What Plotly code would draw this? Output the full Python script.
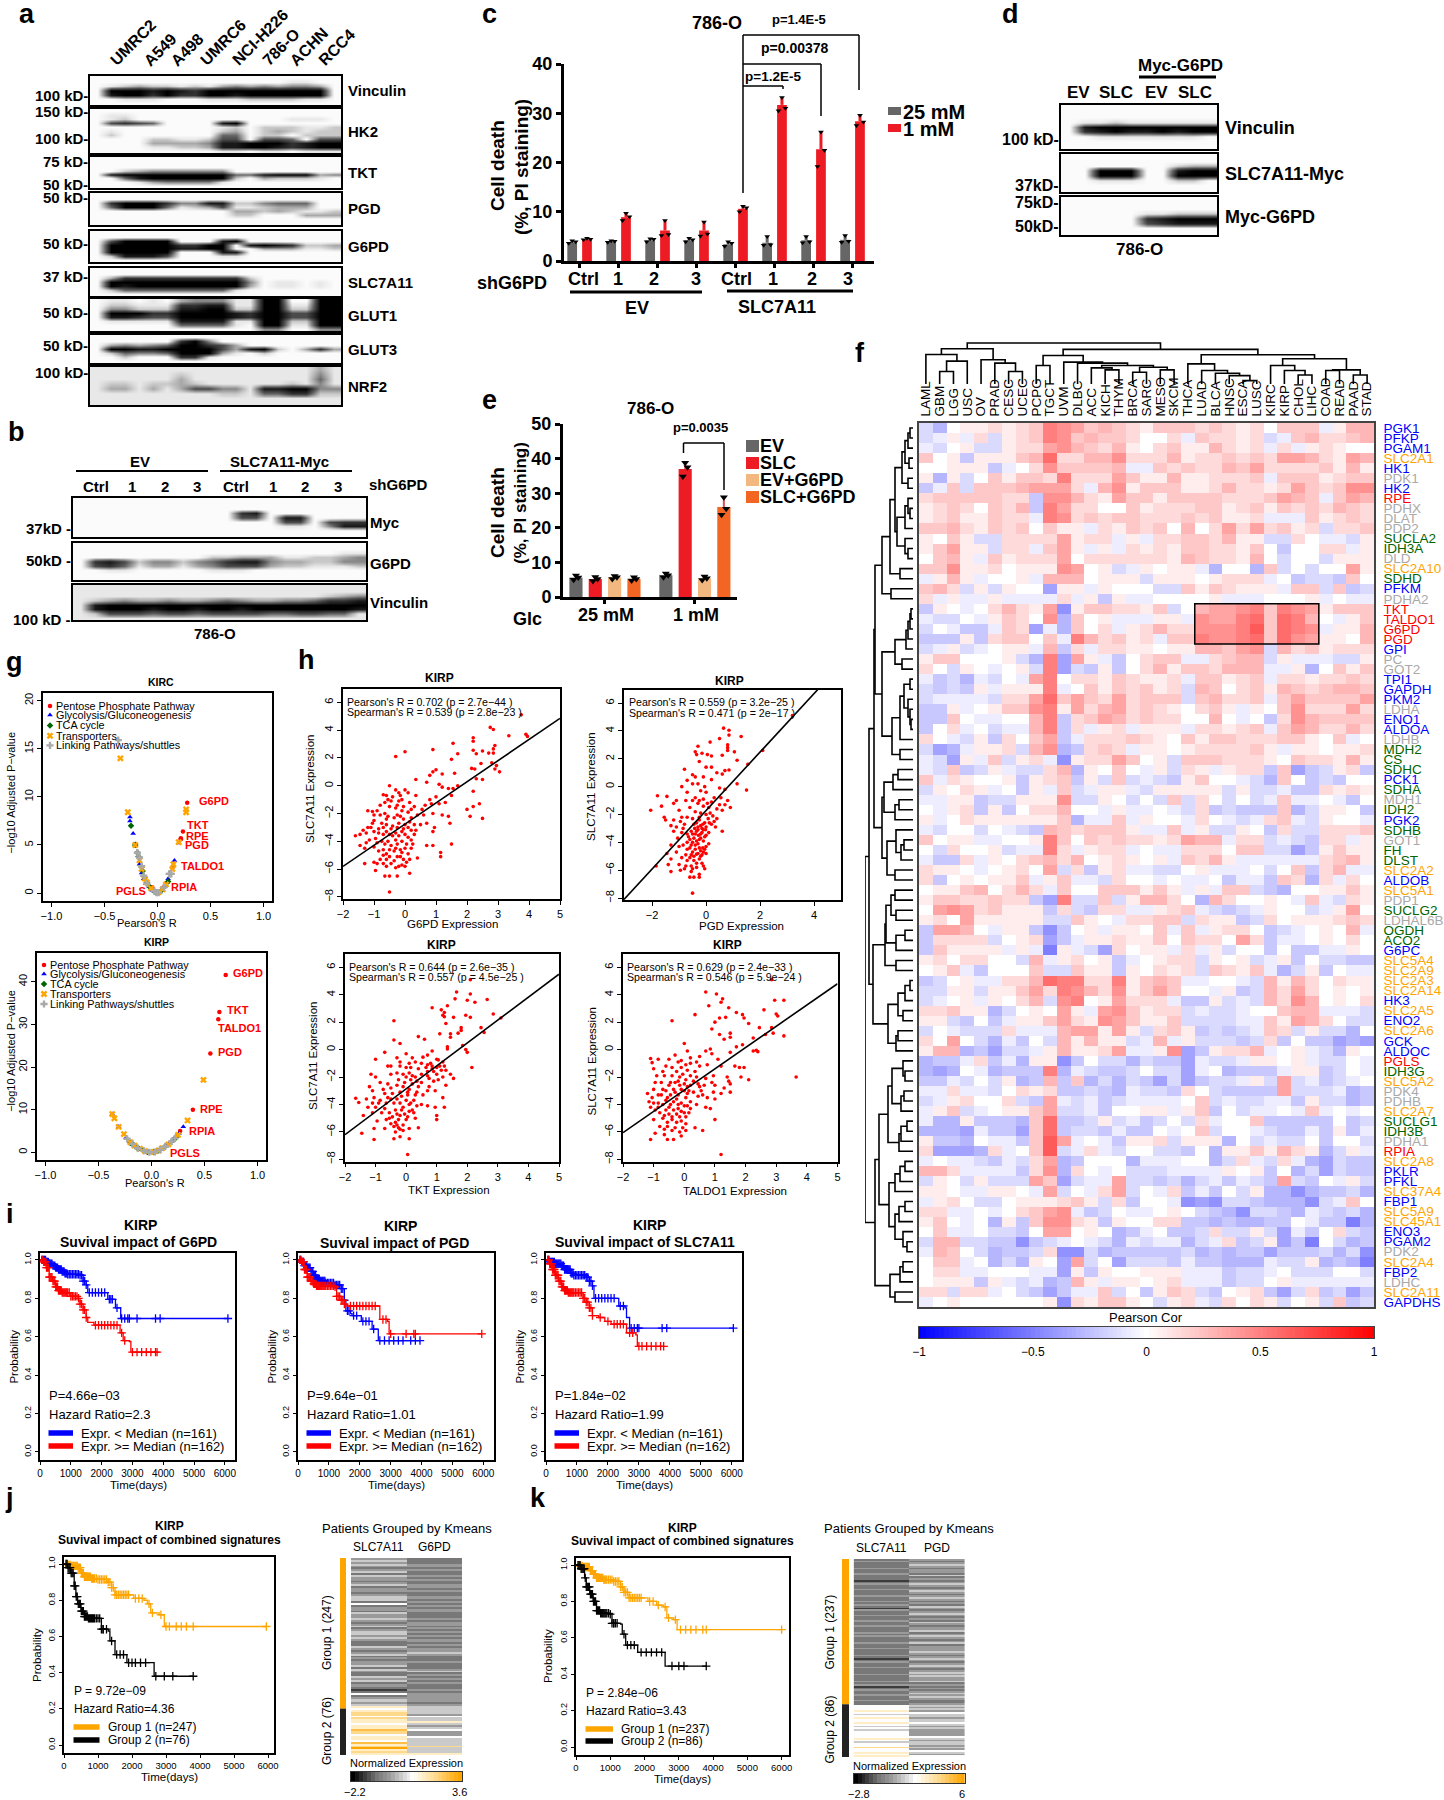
import plotly.graph_objects as go

W, H = 1444, 1800
FONT = "Liberation Sans"

# ---------- panel c / e data ----------
c_groups = ["Ctrl", "1", "2", "3", "Ctrl", "1", "2", "3"]
c_gray = [3.8, 3.9, 4.2, 4.2, 3.4, 3.7, 4.2, 4.3]
c_red = [4.4, 8.9, 6.2, 6.2, 10.6, 31.7, 22.7, 28.4]
c_gray_pts = [[3.6, 3.9, 4.1], [3.8, 4.0, 4.1], [3.9, 4.4, 4.5], [3.9, 4.3, 4.6], [3.0, 3.6, 3.9], [3.2, 3.3, 5.0], [3.7, 3.9, 5.0], [3.8, 4.0, 5.2]]
c_red_pts = [[4.3, 4.4, 4.6], [8.2, 9.0, 9.7], [5.2, 5.4, 8.2], [5.1, 5.5, 7.9], [10.0, 10.8, 11.1], [30.5, 31.0, 33.2], [19.2, 22.5, 26.2], [27.5, 28.2, 29.6]]
e_names = ["EV", "SLC", "EV+G6PD", "SLC+G6PD"]
e_colors = ["#666666", "#ED1C24", "#F2B880", "#F26522"]
e_25 = [5.6, 5.2, 5.7, 5.2]
e_1 = [6.3, 37.0, 5.4, 26.0]
e_25_pts = [[5.0, 5.6, 6.2], [4.6, 5.2, 5.8], [5.2, 5.7, 6.1], [4.8, 5.2, 5.7]]
e_1_pts = [[5.7, 6.3, 6.8], [34.8, 37.5, 38.8], [4.9, 5.4, 5.9], [23.8, 25.5, 28.8]]

# ---------- western blots, band darkness 0-9 ----------
blot_a_vinculin = ["000000000000000000", "000000000000001100", "012322121343434430", "099989879999999990", "089979779989999990", "001110001112222110", "000000000000000000"]
blot_a_hk2 = ["000000000000000000", "011000000000000000", "012000000000001110", "067650000890000000", "000000000120222112", "010000000230232122", "020000000550220222", "000022112660665066", "000033334889997899", "000011223889987899", "000000000110110111"]
blot_a_tkt = ["000000000000000000", "000000000000000000", "000000000000000000", "002344444400000000", "089999999955899934", "005899999920322210", "000134444100000000", "000000000000000000"]
blot_a_pgd = ["000000000000000000", "000000000000000000", "079997448822455500", "059995123611233300", "000000000033232112", "000000000022000333", "000000000000000000", "000000000000000000"]
blot_a_g6pd = ["000000000000000000", "000000000000000000", "069999000890000000", "099999779908987223", "099999889900333112", "099999000880000000", "028886000110000000", "000000000000000000"]
blot_a_slc = ["000000000000000000", "000000000000000000", "037777777772000000", "099999999994011010", "098999999993011010", "025555555510000000", "000000000000000000"]
blot_a_glut1 = ["011010344411990099", "022111778811991199", "044222889922992299", "099977999987996699", "088766999987996699", "011111888811992299", "000000555510991199", "000000000000440044"]
blot_a_glut3 = ["000000000000000000", "000000794000000000", "034345997630000000", "099889999638920373", "025445999310200000", "002000771000000000", "000000000000000000"]
blot_a_nrf2 = ["111111111111111131", "111111211111111141", "111111311111111151", "122122321111112141", "133131366441889944", "111111111221557722", "111111111111111111", "111111111111111111"]
blot_b_myc = ["00000000000000000000", "00000000000000000000", "00000000000000000000", "00000000000780000000", "00000000000660880000", "00000000000000660677", "00000000000000110488", "00000000000000000000", "00000000000000000000"]
blot_b_g6pd = ["00000000000000000000", "00000000000000000000", "00000000000000000011", "00000000022333112234", "07862442457884332244", "06751331346663221112", "00110000011100000000", "00000000000000000000", "00000000000000000000"]
blot_b_vinculin = ["11111111111111111111", "11111111111111111111", "11111111111111111234", "12343343345433445778", "18999999999999999999", "18999899899899999998", "12666566566665566551", "11111111111111111111"]
blot_d_vinculin = ["0000000000", "0000000000", "0000000000", "0112111111", "0899999999", "0789889899", "0011111110", "0000000000", "0000000000"]
blot_d_slc = ["0000000000", "0000000000", "0000000233", "0099900899", "0099900999", "0011100220", "0000000000", "0000000000"]
blot_d_myc = ["0000000000", "0000000000", "0000000000", "0000011222", "0000078999", "0000067888", "0000000000", "0000000000"]

# ---------- panel f ----------
cancers = "LAML GBM LGG USC OV PRAD CESC UCEC PCPG TGCT UVM DLBC ACC KICH THYM BRCA SARC MESO SKCM THCA LUAD BLCA HNSC ESCA LUSC KIRC KIRP CHOL LIHC COAD READ PAAD STAD".split()
genes = ("PGK1 PFKP PGAM1 SLC2A1 HK1 PDK1 HK2 RPE PDHX DLAT PDP2 SUCLA2 IDH3A DLD SLC2A10 SDHD PFKM PDHA2 TKT TALDO1 G6PD PGD GPI PC GOT2 TPI1 GAPDH PKM2 LDHA ENO1 ALDOA LDHB MDH2 CS SDHC PCK1 SDHA MDH1 IDH2 PGK2 SDHB GOT1 FH DLST SLC2A2 ALDOB SLC5A1 PDP1 SUCLG2 LDHAL6B OGDH ACO2 G6PC SLC5A4 SLC2A9 SLC2A3 SLC2A14 HK3 SLC2A5 ENO2 SLC2A6 GCK ALDOC PGLS IDH3G SLC5A2 PDK4 PDHB SLC2A7 SUCLG1 IDH3B PDHA1 RPIA SLC2A8 PKLR PFKL SLC37A4 FBP1 SLC5A9 SLC45A1 ENO3 PGAM2 PDK2 SLC2A4 FBP2 LDHC SLC2A11 GAPDHS").split()
gene_path = "bbbobkbrkk" "kggkogbkrr" "rrbkkbbbkb" "bkgggbgkgb" "gkggobokgk" "ggboooobob" "obbrgokkog" "gkrobboboo" "bbkobkob"
heat_rows = [
"bd011 21237 65343 21333 23212 0333a 144", "ba1a2 b1237 63433 2002a 32212 ba342 234", "ab01b b1225 64324 10231 14212 a2a12 100", "301c1 11348 22446 22241 22323 25542 154",
"00111 ca026 33334 aa323 22435 22223 141", "1d1b0 31332 72225 31141 12223 a3331 233", "ca3b3 33455 52a46 13331 12422 12532 366", "23333 322c6 64215 33133 33222 3543a 354",
"12320 324c7 52200 31222 33123 13232 432", "12311 322a7 62323 32223 23112 aaa31 232", "33421 32303 11a21 32304 02525 2312b 223", "1031b b2222 5122a 1a223 32411 bb20a ab1",
"13511 b22a3 51a1a 21213 32213 0c002 2a1", "0341a 31222 50222 22214 32214 0b00b 111", "33611 20111 6501b a1011 ad00d 3b0b0 051", "a141a 001a4 44011 1b111 01222 a0cbb c30",
"342b1 b100e 11a10 00bb3 13211 1a33b 3cb", "2a1aa 1aaaa 2a1c1 aa000 01aaa 0001a 0aa", "c10a0 24215 f1332 213b0 45567 37651 333", "abb0a 13206 d301a aa11a 65578 38740 a13",
"b0acc a32ea d302a 12422 66679 3876a 114", "ccc1c 23303 a7423 12a33 76678 38651 104", "ba1ba 011a4 c2a22 11011 44356 b4231 222", "13300 01bd7 e51ac 0233a a2344 b1aaa bb1",
"20b10 a01b7 ebc1c 02413 32444 aa1d0 313", "acbda b0a57 02213 2112a 33123 a2212 232", "bcbc1 a1117 a0313 2312b 43023 14323 443", "baaaa b2258 35325 2333b 34223 a3533 335",
"cc1a0 13367 15245 23210 231a1 03622 252", "cc30a a0047 c2354 23220 040a0 c2643 333", "c02a0 baa47 c2a12 a111a 22123 a3542 242", "20ab1 c2035 ca222 32103 13322 23310 3a0",
"beda1 12b46 dc232 a1101 22223 1a110 112", "abe1a 3b12a f1225 301b3 33222 10322 141", "ab3cb 1abb2 4d103 0a1b2 1a122 c3ecb 12c", "3a210 01c12 3c1b3 babc1 300ab d30cb c00",
"b1021 a0c1a 3ba11 ab111 11b1b bacc2 121", "aa11c bb111 6bb10 b0b3b 20b0b a3aa0 ac0", "0a12c 1c022 400a1 aa0ab 2cbcc c3db1 10c", "1a021 11111 3daa3 a100a 20aba 23ab1 00a",
"ab00b 0abc4 32333 1aa3a 1bb10 c2bb2 223", "3011a a0017 30323 22125 44a22 babc2 2a1", "0b200 1baa7 2a122 a0aa2 22033 bbec1 311", "acc2a 10234 24012 101a3 241aa aaaa2 341",
"2110a 01205 b2c12 aabb0 1aaa0 b03c2 4aa", "2c010 113a1 3aab2 00a0a a0caa c32d2 a20", "01134 0242a 30033 3131a 1a33b cd001 131", "13322 322ce 7bb3b 14420 d4200 10a3a b21",
"05652 3111c 2bc22 aa123 abcba 100ba 150", "12051 1111b b310a 2233b 211cb 20111 232", "c5540 a11cf c01a1 103a3 a1220 cba01 04a", "c2222 b012e ca112 11303 22052 caa01 020",
"c3111 1a1ag 1abe2 011a2 a1b00 c0cca a10", "12022 00b4a 1201c a0122 b101b a1c0b bcc", "013ac 0003b b311c 10212 b3213 adb1c 0aa", "cb01a a2248 77227 1343a a00ab 41420 211",
"bb11b 11352 76426 13530 0a1cb 42520 101", "ba01a 1024b 67015 222ac c1bab 42640 102", "22311 db010 51a56 3122b abba0 0344a aab", "11bc0 ca113 52165 3113b bbbaa 31542 0bb",
"b0abb b2aaa 45515 1b231 cbcba 32b1b bd0", "2050b dac0b 41411 ba4a1 bbbcb 2c0cc ede", "144dc ebba1 41125 aa16e c1224 a01ab d10", "dcca2 cad11 fc0bb dbcce abba1 101ab b0a",
"ded0a dccc7 dabcc b0bbe a0dcc ca11c b0a", "ccab0 b1dc4 c3dbd bcebe cbba1 b5bac ba0", "aa2aa b0212 ccbcd abbc2 0bccc c5bbb adc", "ba120 02bc5 abacb aaaa0 3babb aac1b bdc",
"a13ba 01135 bbac0 011a1 3c0ba a0a3a 0a0", "add1c ccd38 ccb1b acb0b 2a003 ccccc 0cb", "dddea cce38 cbbca cc0a0 3b00a bccac 1ca", "1ccd0 aac39 5a0ac 112b1 11d0b abb0c 00b",
"2eeed 2a039 ba2ab 00bbc 0d113 1421d b1a", "a0aab cab25 dc000 daaa0 0db2a b2ade bcc", "442aa aac26 d20a0 bbbaa aa101 c0dbe bcc", "b10b1 bbb53 ebaa5 bbcbd bacab c5bc0 a1b",
"110aa 110a5 b0a25 b0a2c ac0b1 ddfdc cbd", "a120b b0111 231b2 c00af efbbc dddfb a30", "22aa0 a0235 6acb0 aa010 bcdfb bcdab cbd", "130a0 d1c36 621c1 0022c cdcdd cc0ac cgd",
"03aa0 bbc05 5010d ca0cc b2bb1 beac0 2bc", "b44bb ccfcb a0abd abaad ba2cb 1ecg0 bdc", "a430b dccb2 ffbdc ccccb dcdcc ecccb dbf", "033a0 dbd10 e5b0e bbbca ccddd abb1d cdg",
"022aa 000aa e1c10 0111a aacbb a0bbb 00b", "0111c 1abad c41a1 1012a aacbb 01aaa aaa", "22b22 a0bce caa3b 0c132 bc012 ceb2c bec", "a0100 00001 f2133 10b12 ab202 1b01b 3cb"]
cor_unit = 0.072
col_tree = ((( 0, ((1, 2, 37), 3, 68), 88), (4, (5, (6, 7, 37), 62), 72), 105),
            ((((8, 9, 55), (10, (11, ((12, (13, 14, 42), 48), ((15, 16, 35), (17, 18, 42), 50), 55), 62), 65), 85),
              ((19, (20, (21, (22, (23, 24, 10), 25), 32), 40), 60),
               ((25, (26, (27, 28, 27), 40), 55), ((29, 30, 40), (31, 32, 27), 42), 75), 87), 103)), 122)
_a2 = ((((((0, 1, 3), 2, 5), (3, 4, 4), 8)), (5, 6, 5), 11))
_d = (((7, (8, 9, 3), 5), 10, 8), (11, (12, 13, 5), 8), 16)
_f = (((_a2, _d, 18), (14, 15, 13), 23), (16, 17, 22), 31)
_g = ((((((18, 19, 2), 20, 3), 21, 5), 22, 7)), (23, 24, 11), 18)
_h = ((((25, 26, 3), (27, (28, (29, 30, 2), 3), 5), 9), 31, 13), (32, 33, 13), 21)
_ij = ((((34, 35, 15), 36, 20), ((37, 38, 14), 39, 18), 29), ((40, ((41, 42, 9), 43, 12), 17), (44, 45, 18), 26), 31)
_q = ((((((46, 47, 18), (48, 49, 17), 22), ((50, 51, 8), 52, 17), 27)), (53, 54, 17), 28),
      ((((55, 56, 3), 57, 8), (58, 59, 10), 15), ((60, 61, 15), 62, 17), 25), 40)
_r = ((((((63, (64, 65, 8), 10), ((66, 67, 9), 68, 12), 21), (((69, 70, 6), 71, 12), 72, 14), 25),
        ((((73, 74, 8), 75, 13), 76, 18), (((77, 78, 8), 79, 14), (80, (81, 82, 6), 10), 18), 24), 34)),
      (((83, 84, 10), 85, 13), (86, 87, 18), 23), 38)
row_tree = ((((_f, (_g, _h, 31), 38), _ij, 39), _q, 44), _r, 48)

# ---------- panel g ----------
g1_ppp = [(0.28, 9.4), (0.24, 6.4), (0.22, 5.7), (0.22, 5.6), (0.15, 2.8), (0.06, 0.6), (-0.05, 0.6)]
g1_gly = [(-0.26, 7.9), (-0.26, 7.5), (-0.23, 6.2), (-0.21, 5.1), (-0.17, 3.0), (-0.15, 2.1), (-0.13, 1.5), (-0.11, 1.0), (-0.08, 0.7), (-0.05, 0.3), (-0.03, 0.15), (0.02, 0.1), (0.04, 0.3), (0.07, 0.7), (0.09, 1.1), (0.1, 1.5), (0.14, 2.7), (0.16, 3.4), (0.2, 5.2)]
g1_tca = [(-0.25, 7.0), (-0.21, 5.0), (-0.19, 4.2), (-0.18, 3.8), (-0.15, 2.7), (-0.14, 2.3), (-0.12, 1.6), (-0.1, 1.1), (-0.07, 0.6), (-0.02, 0.1), (0.01, 0.05), (0.03, 0.2), (0.1, 1.2)]
g1_tra = [(-0.35, 14.0), (-0.28, 8.4), (0.27, 8.7), (0.27, 8.4), (0.2, 5.3), (-0.21, 5.0), (-0.17, 3.4), (0.15, 3.0), (-0.15, 2.5), (-0.12, 1.5), (-0.1, 1.1), (-0.06, 0.5), (0.01, 0.1), (0.05, 0.4), (0.08, 0.9), (0.14, 2.5)]
g1_lnk = [(-0.37, 15.9), (-0.19, 4.2), (-0.17, 3.7), (-0.15, 2.8), (-0.13, 1.8), (-0.1, 1.0), (-0.03, 0.2), (-0.01, 0.05), (0.01, 0.05), (0.06, 0.6), (0.11, 2.0), (0.12, 2.0), (0.13, 2.0)]
g2_ppp = [(0.7, 41.6), (0.64, 32.9), (0.63, 31.2), (0.555, 23.2), (0.39, 10.0), (0.27, 5.0), (0.04, 0.3)]
g2_gly = [(-0.37, 9.0), (-0.31, 6.0), (-0.24, 3.5), (-0.18, 1.9), (-0.14, 1.1), (-0.1, 0.7), (-0.06, 0.3), (-0.03, 0.1), (0.01, 0.05), (0.05, 0.3), (0.09, 0.8), (0.14, 1.5), (0.17, 2.2), (0.2, 3.0), (0.24, 3.9), (0.26, 4.5), (0.3, 6.0)]
g2_tca = [(-0.2, 2.3), (-0.17, 1.8), (-0.14, 1.2), (-0.12, 0.9), (-0.08, 0.5), (-0.04, 0.1), (0.02, 0.1), (0.06, 0.4), (0.12, 1.2), (0.21, 3.0), (0.23, 3.5)]
g2_tra = [(0.49, 17.0), (0.34, 7.5), (-0.37, 9.0), (-0.35, 8.0), (-0.31, 6.0), (-0.26, 4.3), (-0.2, 2.4), (-0.16, 1.6), (-0.11, 0.9), (-0.06, 0.3), (0.02, 0.1), (0.07, 0.5), (0.1, 1.0), (0.16, 1.9), (0.25, 4.1)]
g2_lnk = [(-0.23, 3.2), (-0.18, 2.0), (-0.13, 1.0), (-0.07, 0.4), (-0.02, 0.05), (0.03, 0.1), (0.08, 0.6), (0.13, 1.4), (0.19, 2.6), (0.22, 3.3)]
g_legend = ["Pentose Phosphate Pathway", "Glycolysis/Gluconeogenesis", "TCA cycle", "Transporters", "Linking Pathways/shuttles"]

# ---------- panel h ----------
h_g6pd = [(3.75,5.1),(2.75,4.2),(2.85,4.05),(3.35,3.6),(3.9,3.7),(3.95,3.55),(2.2,3.45),(2.2,3.2),(1.55,3.05),(2.9,2.9),(2.85,2.65),(2.7,2.35),(2.85,2.35),(2.2,2.55),(2.3,2.3),(2.5,2.5),(1.7,2.3),(0.9,2.6),(0,2.45),(-0.3,2.1),(2.45,1.6),(1.5,1.9),(2.8,1.65),(2.95,1.45),(2.9,1.2),(3.05,1.0),(2.15,1.25),(2.25,1.2),(1.0,1.15),(1.2,0.85),(1.6,0.9),(0.8,0.75),(0.9,1.0),(2.5,0.45),(2.3,0.5),(0.35,0.45),(0.7,0.25),(1.1,0.1),(1.2,-0.1),(1.4,-0.2),(1.55,-0.2),(1.7,0),(2.2,-0.4),(-0.5,0),(-0.3,-0.3),(-0.7,-0.65),(-0.6,-0.7),(0,-0.3),(0.1,-0.5),(0.35,-0.7),(-0.2,-0.5),(-0.4,-0.8),(-0.55,-1.0),(-0.1,-1.0),(-0.2,-1.1),(0.8,-1.0),(1.0,-0.8),(1.1,-1.3),(1.3,-1.2),(1.5,-0.7),(2.0,-1.7),(2.2,-1.5),(2.4,-1.3),(2.1,-2.2),(2.5,-2.35),(1.45,-2.7),(1.4,-2.2),(1.2,-2.1),(0.9,-2.0),(0.6,-2.1),(0.4,-2.1),(-0.9,-1.8),(-1.2,-1.8),(-1.05,-1.85),(-0.8,-1.4),(-0.5,-1.5),(-0.3,-1.6),(-0.1,-1.8),(0.1,-1.9),(0.2,-2.3),(-0.15,-2.2),(-0.35,-2.3),(-0.6,-2.4),(-1.0,-2.5),(-1.05,-2.7),(-1.1,-3.0),(-1.35,-3.2),(-1.6,-3.6),(-1.45,-3.5),(-1.25,-3.4),(-1.0,-3.3),(-0.85,-3.1),(-0.6,-2.8),(-0.4,-2.9),(-0.2,-2.7),(0,-2.8),(0.1,-3.0),(0.3,-2.8),(0.5,-2.8),(0.7,-2.7),(0.95,-3.0),(0.9,-3.3),(-0.1,-3.3),(-0.3,-3.4),(-0.5,-3.5),(-0.7,-3.5),(-0.95,-3.8),(-1.15,-3.9),(-1.25,-4.1),(-1.45,-4.3),(-1.3,-4.5),(-0.75,-4.0),(-0.55,-4.0),(-0.3,-3.9),(-0.1,-4.0),(0.1,-3.7),(0.3,-3.5),(0.7,-4.3),(0.9,-4.3),(1.5,-4.2),(-0.7,-4.6),(-0.5,-4.6),(-0.35,-4.7),(-0.1,-4.8),(0,-4.5),(0.2,-4.5),(0.4,-5.2),(1.15,-4.8),(1.15,-5.1),(-0.7,-5.0),(-0.5,-5.1),(-0.25,-5.1),(-0.05,-5.3),(-1.3,-5.6),(-1.0,-5.5),(-0.9,-5.6),(-0.6,-5.8),(-0.45,-5.6),(-0.2,-5.8),(0,-5.8),(0.15,-6.3),(-0.95,-6.1),(-0.65,-6.5),(-0.5,-6.5),(-0.25,-6.5),(-0.5,-7.65),
(-0.65,-2.0),(-0.45,-1.1),(-0.25,-1.4),(-0.05,-1.5),(0.15,-1.2),(0.3,-1.5),(-0.75,-2.7),(-0.55,-2.2),(-0.25,-2.1),(-0.05,-2.4),(0.15,-2.6),(-0.85,-3.4),(-0.7,-3.0),(-0.45,-3.1),(-0.25,-3.0),(-0.05,-3.1),(0.2,-3.2),(0.35,-3.2),(-0.6,-3.3),(-0.4,-3.6),(-0.2,-3.6),(0,-3.5),(0.2,-3.9),(-0.9,-4.1),(-0.65,-4.2),(-0.45,-4.3),(-0.25,-4.2),(0.05,-4.2),(0.25,-4.2),(-1.0,-4.4),(-0.85,-4.7),(-0.6,-4.9),(-0.3,-4.5),(-0.15,-4.6),(0.1,-4.9),(-0.8,-5.3),(-0.6,-5.3),(-0.35,-5.4),(-0.15,-5.1),(0.15,-5.3),(-0.7,-5.6),(-0.3,-5.9),(-0.1,-5.7),(0.05,-5.5),(-1.2,-3.0),(-1.0,-2.1),(-0.8,-2.1),(-0.65,-1.2),(-0.15,-0.7),(0.2,-1.7),(0.65,-1.4),(0.55,-1.7),(0.85,-1.3)]
h_pgd = [(3.2,5.1),(0.65,4.2),(0.85,4.05),(1.3,3.6),(0.85,3.7),(0.8,3.0),(0.15,3.2),(0.5,3.45),(-0.3,2.9),(-0.4,2.5),(-0.35,2.3),(-0.15,2.4),(0.05,2.3),(2.1,2.6),(1.55,1.6),(1.15,1.9),(0.6,2.25),(0.2,2.2),(0.8,2.8),(0.8,2.6),(1.05,2.5),(-0.25,1.8),(0,1.4),(0.2,1.4),(0.7,1.15),(0.85,1.2),(0.4,1.0),(0.6,0.9),(-0.8,1.25),(-0.5,0.85),(-0.4,0.7),(-0.1,0.7),(0.2,0.5),(-0.7,0.45),(-0.3,0.2),(1.15,0.2),(1.5,-0.25),(0.7,-0.2),(0.5,-0.1),(-0.05,0),(-0.5,0.2),(-0.9,0),(-0.2,-0.3),(0,-0.4),(-0.7,-0.4),(-1.8,-0.65),(-1.45,-0.7),(-1.1,-1.0),(-0.75,-1.0),(-0.4,-0.8),(-0.1,-0.9),(0.3,-0.8),(0.5,-1.3),(0.9,-1.5),(0.7,-1.3),(-2.05,-1.7),(-1.65,-1.4),(-1.2,-1.2),(-0.6,-1.5),(-0.3,-1.2),(-0.1,-1.4),(0.1,-1.5),(-1.0,-1.7),(-0.4,-1.8),(-0.2,-1.9),(0,-2.0),(0.25,-2.1),(-1.5,-2.4),(-1.55,-2.2),(-1.2,-2.4),(-0.9,-2.2),(-0.5,-2.3),(-0.25,-2.4),(-0.05,-2.6),(0.2,-2.7),(0.35,-2.9),(0.6,-3.2),(-1.3,-2.8),(-1.1,-2.9),(-0.8,-2.7),(-0.45,-2.7),(-0.3,-2.9),(-0.15,-3.0),(0,-2.9),(0.1,-3.3),(-1.2,-3.2),(-0.9,-3.3),(-0.55,-3.2),(-0.35,-3.2),(-0.2,-3.4),(0,-3.5),(-1.05,-3.7),(-0.65,-3.6),(-0.45,-3.7),(-0.25,-3.8),(-0.1,-3.9),(-0.7,-4.0),(-0.5,-4.0),(-0.3,-4.1),(0,-4.3),(0.1,-4.1),(-1.3,-4.2),(-1.0,-4.3),(-0.85,-4.2),(-0.6,-4.4),(-0.4,-4.5),(-0.2,-4.6),(-0.1,-4.7),(0,-4.8),(-1.45,-4.8),(-1.1,-4.7),(-0.75,-4.9),(-0.55,-4.9),(-0.35,-4.85),(-1.3,-5.2),(-0.9,-5.1),(-0.7,-5.3),(-0.45,-5.3),(-0.25,-5.2),(-1.85,-5.7),(-1.4,-5.6),(-1.0,-5.6),(-0.75,-5.7),(-0.55,-5.7),(-0.35,-5.8),(-0.1,-5.7),(-0.05,-5.9),(-1.3,-6.1),(-0.95,-6.0),(-0.55,-6.1),(-0.25,-6.3),(-0.6,-6.5),(-0.45,-6.5),(-0.25,-6.5),(-0.5,-7.65),
(-0.25,-2.2),(-0.12,-2.7),(-0.35,-2.6),(-0.2,-2.8),(-0.1,-3.1),(-0.3,-3.1),(-0.4,-3.4),(-0.28,-3.5),(-0.15,-3.3),(-0.05,-3.6),(-0.42,-3.0),(-0.5,-3.4),(-0.6,-3.8),(-0.35,-3.9),(-0.2,-3.7),(-0.02,-3.1),(0.12,-2.6),(0.08,-2.3),(-0.55,-4.2),(-0.4,-4.2),(-0.25,-4.4),(-0.12,-4.4),(-0.7,-4.5),(-0.5,-4.7),(-0.3,-4.8),(-0.15,-4.9),(-0.05,-4.5),(-0.45,-5.0),(-0.2,-5.0),(-0.6,-5.1),(-0.35,-5.5),(-0.15,-5.5),(-0.5,-5.9),(-0.8,-5.9),(-0.7,-3.4),(-0.85,-3.0),(-0.95,-2.5),(-0.7,-2.2),(0.05,-1.2),(0.2,-1.1),(0.4,-1.6),(0.15,-1.9),(0.4,-2.3),(0.3,-2.5),(0.6,-1.7),(0.55,-0.8),(0.8,-1.0),(-0.25,-1.0),(-0.5,-1.0)]
h_tkt = [(2.1,5.1),(1.65,4.2),(2.1,4.05),(1.6,3.7),(2.0,3.6),(2.65,3.65),(1.35,3.2),(1.15,2.9),(1.25,2.7),(0.85,3.05),(2.25,3.45),(1.2,2.5),(1.25,2.4),(1.55,2.35),(1.95,2.5),(2.1,2.35),(2.85,2.6),(3.1,2.3),(-0.4,2.1),(1.3,1.9),(1.8,1.6),(1.8,1.4),(2.45,1.6),(2.55,1.25),(1.1,1.15),(1.45,1.15),(1.7,1.2),(1.45,0.9),(0.4,0.95),(0.6,0.75),(-0.4,0.7),(-0.2,0.45),(1.35,0.2),(1.35,0.05),(1.85,0.3),(1.95,0),(2.0,-0.2),(2.15,-1.3),(1.05,-0.75),(0.85,-0.1),(0.55,-0.55),(0.7,-0.4),(-1.0,-0.7),(-0.7,-0.2),(-0.3,-0.6),(0,-0.3),(0.2,-0.6),(0.3,-0.9),(-0.5,-1.2),(-0.2,-1.2),(0,-1.3),(0.1,-1.0),(0.5,-1.0),(0.8,-1.0),(1.0,-0.7),(1.2,-0.9),(1.3,-1.5),(1.45,-1.8),(1.55,-2.1),(0.65,-1.3),(0.85,-1.4),(0.7,-1.6),(1.0,-1.8),(1.2,-2.0),(-1.15,-1.8),(-1.0,-2.0),(-0.5,-1.8),(-0.3,-1.7),(-0.1,-1.8),(0.1,-1.7),(0.3,-2.0),(0.5,-2.4),(0.75,-2.1),(1.05,-2.2),(1.3,-2.6),(-1.2,-2.7),(-0.85,-2.4),(-0.6,-2.5),(-0.3,-2.6),(-0.05,-2.4),(0.2,-2.5),(0.4,-2.7),(-1.1,-3.0),(-0.7,-3.2),(-0.45,-3.2),(-0.2,-3.1),(0.05,-3.1),(0.3,-3.3),(0.7,-3.0),(0.95,-3.0),(1.2,-3.5),(-1.65,-3.55),(-1.55,-3.85),(-1.3,-3.6),(-1.05,-3.5),(-0.85,-3.7),(-0.6,-3.5),(-0.3,-3.6),(0,-3.7),(0.15,-3.9),(0.5,-4.0),(0.7,-4.1),(0.95,-4.2),(1.25,-4.2),(-1.25,-4.2),(-1.0,-4.2),(-0.7,-4.3),(-0.35,-4.4),(-0.1,-4.2),(0.1,-4.5),(0.25,-4.6),(-1.4,-4.8),(-1.1,-4.6),(-0.8,-4.6),(-0.45,-4.9),(-0.2,-4.8),(0.05,-4.9),(1.0,-4.8),(1.0,-5.1),(-0.95,-5.2),(-0.65,-5.1),(-0.35,-5.3),(-0.1,-5.5),(0.3,-5.0),(-1.05,-5.75),(-0.7,-5.75),(-0.4,-5.6),(-0.2,-5.8),(0.1,-5.75),(0.4,-5.7),(-1.45,-6.1),(-1.05,-6.55),(-0.4,-6.5),(-0.2,-6.35),(0.1,-6.5),(0.05,-7.65),
(-0.75,-2.9),(-0.5,-2.8),(-0.25,-2.2),(0,-2.0),(0.2,-1.9),(-0.1,-2.7),(0.1,-2.9),(0.35,-3.1),(0.55,-3.3),(0.75,-2.7),(0.9,-2.3),(0.7,-1.1),(0.9,-1.6),(0.4,-1.4),(0.15,-1.3),(-0.5,-3.6),(-0.2,-3.9),(0.05,-3.3),(0.25,-3.7),(0.35,-4.1),(0.1,-4.0),(-0.15,-3.4),(-0.4,-3.9),(-0.65,-3.9),(-0.9,-3.9),(-1.1,-3.9),(-0.55,-4.6),(-0.3,-4.7),(-0.05,-4.7),(0.2,-4.4),(-0.55,-5.0),(-0.25,-5.1),(0.0,-5.1),(-0.3,-5.5),(-0.5,-5.4),(-0.25,-5.7),(-0.35,-6.0),(-0.1,-5.9),(-0.15,-4.4),(1.1,-1.2),(0.85,-1.2),(1.0,-1.3),(1.15,-1.5),(1.25,-1.2),(0.7,-1.9),(0.5,-1.8),(0.35,-2.3),(0.15,-2.2),(-0.6,-1.2),(-0.2,-0.9)]
h_taldo = [(2.85,5.1),(0.7,4.2),(1.05,4.05),(1.25,3.7),(1.2,3.45),(3.25,3.6),(2.95,3.6),(0.8,3.2),(1.45,3.05),(2.6,2.9),(0.35,2.55),(1.7,2.7),(1.9,2.55),(1.15,2.3),(1.35,2.35),(1.95,2.3),(2.1,1.9),(3.0,2.6),(3.05,2.45),(-0.4,2.1),(1.0,2.0),(0.9,1.5),(2.45,1.6),(2.85,1.6),(2.9,1.2),(2.65,1.1),(3.25,1.0),(1.5,1.2),(1.5,0.9),(1.3,0.75),(1.15,1.1),(2.25,0.85),(0.0,0.45),(1.7,0.2),(1.9,0.35),(2.25,-0.1),(2.35,-0.05),(2.4,-0.15),(1.5,-0.2),(1.1,-0.7),(0.9,-0.3),(0.85,0.05),(0.7,-0.1),(0.5,-0.5),(0.2,-0.6),(0.1,-0.1),(-0.3,-0.4),(-0.85,-0.7),(-1.1,-0.65),(-1.05,-0.95),(-0.5,-0.7),(-0.1,-0.8),(0.5,-1.2),(1.2,-1.2),(1.65,-1.2),(1.8,-1.3),(1.95,-1.3),(2.1,-2.2),(1.85,-2.0),(3.65,-2.0),(-1.0,-1.4),(-0.7,-1.6),(-0.4,-1.3),(-0.1,-1.3),(0.1,-1.5),(0.35,-1.6),(-0.65,-1.9),(-0.4,-1.9),(-0.15,-2.0),(0.05,-2.2),(0.4,-2.0),(0.7,-2.1),(0.95,-1.9),(1.4,-2.0),(1.45,-2.3),(1.0,-2.6),(-0.75,-2.4),(-0.45,-2.4),(-0.2,-2.3),(0,-2.5),(0.2,-2.6),(0.5,-2.7),(1.3,-2.8),(1.5,-2.5),(-1.0,-2.9),(-0.7,-2.9),(-0.35,-2.9),(-0.1,-2.9),(0.15,-3.0),(0.55,-3.0),(0.95,-3.1),(1.2,-3.2),(1.5,-3.1),(-1.2,-3.2),(-1.05,-3.5),(-0.75,-3.3),(-0.45,-3.3),(-0.2,-3.3),(0.05,-3.5),(0.45,-3.4),(0.75,-3.5),(1.0,-3.6),(-1.0,-3.9),(-0.6,-3.7),(-0.35,-3.8),(-0.1,-3.9),(0.2,-3.8),(0.4,-4.0),(-1.1,-4.2),(-0.85,-4.2),(-0.5,-4.2),(-0.2,-4.3),(0.1,-4.1),(0.7,-4.2),(0.85,-4.3),(-0.8,-4.6),(-0.5,-4.7),(-0.25,-4.7),(0,-4.6),(0.15,-4.6),(-1.0,-5.1),(-0.7,-5.0),(-0.4,-5.1),(-0.1,-5.2),(1.0,-5.1),(-0.8,-5.6),(-0.55,-5.6),(-0.3,-5.7),(-0.05,-5.7),(0.35,-5.7),(0.6,-5.9),(-0.95,-6.1),(-0.65,-6.2),(-0.1,-6.3),(-1.1,-6.55),(-0.55,-6.55),(-0.35,-6.55),(1.2,-7.65),
(-0.6,-3.0),(-0.3,-3.1),(-0.5,-2.6),(-0.15,-2.6),(0.1,-2.7),(0.3,-2.3),(-0.25,-1.6),(-0.05,-1.8),(0.2,-1.9),(-0.85,-3.3),(-0.55,-3.5),(-0.25,-3.6),(0.1,-3.2),(0.3,-3.1),(0.6,-3.3),(-0.85,-3.9),(-0.7,-4.0),(-0.45,-4.0),(-0.2,-4.0),(0,-4.1),(-0.95,-4.4),(-0.6,-4.4),(-0.35,-4.4),(-0.1,-4.5),(0.2,-4.3),(-0.65,-4.8),(-0.4,-4.9),(-0.15,-4.9),(0.05,-4.9),(-0.55,-5.3),(-0.25,-5.3),(0.05,-5.4),(-0.65,-5.8),(-0.4,-5.9),(-0.15,-6.0),(0.05,-5.9),(-0.3,-2.4),(0.0,-3.0),(0.45,-2.5),(0.65,-2.6),(0.9,-2.4),(0.75,-1.1),(0.4,-0.9),(0.2,-1.0),(0.05,-1.1),(-0.2,-0.9),(-0.6,-1.2),(-0.9,-1.9),(-0.95,-2.4),(-1.15,-3.8)]
h_lines = [((-2, -5.8), (5, 4.85)), ((-3.04, -8.1), (4.2, 7.1)), ((-2, -6.2), (5, 5.5)), ((-2, -6.05), (5, 4.8))]

# ---------- KM curves: (days, probability) ----------
cens_early = [60, 90, 120, 150, 180, 210, 240, 270, 300, 330, 360, 390, 420, 450, 480, 510, 540, 570, 600, 630, 660, 690, 720, 750, 780, 810, 840, 870, 900, 950, 1000, 1050, 1100, 1150, 1200, 1250, 1300, 1350, 1400, 1450, 1500]
i1_blue = [(0,1),(100,1),(200,.99),(300,.98),(400,.97),(500,.96),(600,.95),(700,.94),(800,.93),(900,.925),(1300,.92),(1400,.89),(1500,.87),(1550,.83),(2150,.83),(2200,.795),(2400,.795),(2450,.75),(2600,.75),(2620,.695),(6100,.695)]
i1_red = [(0,1),(100,.99),(200,.96),(300,.91),(400,.89),(500,.86),(600,.84),(700,.83),(950,.83),(1000,.81),(1250,.80),(1300,.77),(1400,.74),(1500,.70),(1550,.675),(1750,.66),(2550,.66),(2600,.62),(2700,.58),(2900,.575),(2950,.52),(3800,.52)]
i1_blue_c = [1600,1700,1800,1900,2000,2100,2250,2300,2350,2500,2650,2750,2850,2900,3150,3750,3900,6100]
i1_red_c = [1800,1900,2000,2100,2200,2300,2400,2500,2650,2750,3000,3150,3300,3450,3600,3750,3800]
i2_blue = [(0,1),(100,.99),(200,.97),(300,.96),(400,.94),(500,.92),(600,.90),(700,.89),(900,.88),(1200,.87),(1400,.85),(1500,.79),(1550,.735),(1700,.72),(1750,.71),(2000,.71),(2050,.68),(2350,.68),(2400,.64),(2550,.64),(2600,.58),(3950,.58)]
i2_red = [(0,1),(100,.99),(200,.95),(300,.91),(400,.89),(500,.875),(600,.865),(1200,.86),(1250,.81),(1400,.79),(1500,.77),(1600,.76),(2600,.76),(2650,.69),(2900,.68),(2950,.615),(5950,.615)]
i2_blue_c = [1600,1650,1800,1900,2100,2200,2300,2450,2650,2800,2950,3100,3250,3400,3650,3800,3950]
i2_red_c = [1700,1800,1900,2000,2100,2200,2300,2400,2500,2750,2850,3000,3500,3750,3800,5950]
i3_blue = [(0,1),(100,.99),(300,.98),(500,.97),(600,.95),(800,.93),(900,.92),(1300,.91),(1400,.89),(1500,.865),(1550,.80),(2300,.80),(2350,.76),(2550,.75),(2600,.70),(2700,.645),(6050,.645)]
i3_red = [(0,1),(100,.98),(200,.95),(300,.92),(400,.89),(500,.86),(600,.84),(700,.83),(1100,.83),(1200,.80),(1300,.78),(1400,.75),(1500,.71),(1700,.70),(1900,.68),(2100,.665),(2550,.665),(2600,.62),(2900,.61),(2950,.55),(3800,.55)]
i3_blue_c = [1600,1700,1800,1900,2000,2100,2200,2400,2500,2750,2850,2950,3000,3750,3900,6050]
i3_red_c = [1750,2000,2200,2300,2400,2500,2700,2800,3000,3100,3250,3400,3550,3700,3800]
j_or = [(0,1),(100,.995),(200,.99),(400,.98),(500,.95),(600,.93),(800,.92),(1000,.915),(1300,.90),(1400,.87),(1500,.83),(2000,.83),(2050,.81),(2350,.80),(2450,.78),(2550,.73),(2800,.72),(2950,.655),(5950,.655)]
j_bk = [(0,1),(100,.98),(200,.95),(300,.88),(350,.82),(400,.78),(500,.74),(600,.71),(700,.70),(1050,.70),(1100,.64),(1300,.63),(1350,.575),(1500,.50),(1800,.50),(1850,.455),(2600,.455),(2650,.38),(3800,.38)]
j_or_c = [1550,1600,1650,1700,1750,1800,1850,1900,2100,2200,2300,2500,2600,2850,3000,3100,3300,3450,3600,3800,5950]
j_bk_c = [1150,1250,1400,1550,1650,1750,1900,2000,2100,2250,2400,2700,2950,3200,3800]
k_or = [(0,1),(100,.995),(200,.99),(400,.97),(500,.95),(600,.93),(800,.92),(1100,.91),(1300,.88),(1400,.85),(1550,.82),(2050,.82),(2100,.80),(2350,.78),(2550,.77),(2650,.71),(2850,.70),(2950,.645),(6000,.645)]
k_bk = [(0,1),(150,.98),(250,.93),(300,.88),(400,.84),(500,.80),(600,.75),(700,.735),(1000,.73),(1050,.68),(1300,.675),(1350,.62),(1450,.56),(1750,.56),(1800,.52),(2550,.52),(2600,.445),(3800,.445)]
k_or_c = [1550,1600,1650,1700,1750,1800,1850,1900,2150,2250,2400,2600,2700,2900,3050,3200,3350,3500,3700,3800,6000]
k_bk_c = [1100,1200,1400,1500,1600,1700,1900,2050,2200,2350,2500,2800,3000,3150,3800]

# ---------- expression strips for j, k (0 black, 5 white, 9 orange) ----------
j_slc = "3434323424332342332344425233243343234234434322243234232334243224342332125234434" + "65677576656687756658679676"
j_g6pd = "2223323223232233232233232323322232332323232332323343222322234232323222323333323" + "44443544643453335444474446"
k_slc = "232223223222123223222322323213223223223222323222322322232123223222322232312322322322" + "555654565565454555565455755656"
k_pgd = "323432332423234323432343232432343232432334234323423334323432343234343342323234343223" + "434354434454343333543443435435"
group_j = [247, 76]
group_k = [237, 86]

# ---------- helpers ----------
layout = dict(template="none", width=W, height=H, margin=dict(l=0, r=0, t=0, b=0, pad=0), autosize=False, showlegend=False,
              paper_bgcolor="white", plot_bgcolor="rgba(0,0,0,0)", barmode="overlay",
              font=dict(family=FONT, color="black"), annotations=[], shapes=[])
traces = []
naxes = 0

def new_ax(x0, y0, x1, y1, xr, yr, xo=None, yo=None):
    global naxes
    naxes += 1
    n = naxes
    base = dict(showgrid=False, zeroline=False, showticklabels=False, ticks="", fixedrange=True, layer="above traces", automargin=False)
    xa = dict(base, domain=[x0 / W, x1 / W], range=list(xr), anchor=f"y{n}")
    ya = dict(base, domain=[1 - y1 / H, 1 - y0 / H], range=list(yr), anchor=f"x{n}")
    xa.update(xo or {})
    ya.update(yo or {})
    layout[f"xaxis{n}"] = xa
    layout[f"yaxis{n}"] = ya
    return f"x{n}", f"y{n}"

def txt(x, y, s, size=12, bold=False, anchor="center", color="black", angle=0, ya="middle"):
    layout["annotations"].append(dict(x=x / W, y=1 - y / H, xref="paper", yref="paper", text=f"<b>{s}</b>" if bold else s,
                                      showarrow=False, xanchor=anchor, yanchor=ya, textangle=angle,
                                      font=dict(size=size, color=color, family=FONT), borderpad=0, borderwidth=0))

def pl(x0, y0, x1, y1, w=1.5, c="black"):
    layout["shapes"].append(dict(type="line", xref="paper", yref="paper", x0=x0 / W, x1=x1 / W, y0=1 - y0 / H, y1=1 - y1 / H,
                                 line=dict(color=c, width=w)))

def rect(x0, y0, x1, y1, c):
    layout["shapes"].append(dict(type="rect", xref="paper", yref="paper", x0=x0 / W, x1=x1 / W, y0=1 - y0 / H, y1=1 - y1 / H,
                                 fillcolor=c, line=dict(width=0)))

def blot(x0, y0, x1, y1, rows):
    z = [[int(ch) for ch in r] for r in rows]
    box = dict(showline=True, mirror=True, linecolor="black", linewidth=1.5)
    xa, ya = new_ax(x0, y0, x1, y1, (-0.5, len(rows[0]) - 0.5), (len(rows) - 0.5, -0.5), box, box)
    traces.append(go.Heatmap(z=z, zmin=0, zmax=9, zsmooth="best", showscale=False, hoverinfo="skip", xaxis=xa, yaxis=ya,
                             colorscale=[[0, "#fbfbfb"], [0.12, "#e6e6e6"], [0.6, "#5a5a5a"], [1, "#000000"]]))

def tree_xy(node, xs, ys):
    if isinstance(node, int):
        return node, 0
    p1, h1 = tree_xy(node[0], xs, ys)
    p2, h2 = tree_xy(node[1], xs, ys)
    h = node[2]
    xs += [p1, p1, p2, p2, None]
    ys += [h1, h, h, h2, None]
    return (p1 + p2) / 2, h

for s, x, y in [("a", 19, 14), ("b", 8, 432), ("c", 482, 14), ("d", 1002, 14), ("e", 482, 400), ("f", 855, 353),
                ("g", 6, 662), ("h", 298, 660), ("i", 6, 1214), ("j", 5, 1498), ("k", 530, 1498)]:
    txt(x, y, s, 27, True, "left")

# ---------- panel a ----------
a_lanes = ["UMRC2", "A549", "A498", "UMRC6", "NCI-H226", "786-O", "ACHN", "RCC4"]
a_lane_x = [107, 141, 168, 197, 229, 259, 287, 315]
for s, x in zip(a_lanes, a_lane_x):
    txt(x, 69, s, 16, True, "left", angle=-45, ya="bottom")
a_blots = [(76, 105, blot_a_vinculin, "Vinculin"), (109, 153, blot_a_hk2, "HK2"), (157, 188, blot_a_tkt, "TKT"),
           (193, 225, blot_a_pgd, "PGD"), (231, 262, blot_a_g6pd, "G6PD"), (268, 296, blot_a_slc, "SLC7A11"),
           (299, 331, blot_a_glut1, "GLUT1"), (335, 363, blot_a_glut3, "GLUT3"), (367, 405, blot_a_nrf2, "NRF2")]
for y0, y1, rows, name in a_blots:
    blot(90, y0, 341, y1, rows)
    txt(348, (y0 + y1) / 2, name, 15, True, "left")
for s, y in [("100 kD-", 95), ("150 kD-", 112), ("100 kD-", 138), ("75 kD-", 161), ("50 kD-", 184), ("50 kD-", 197),
             ("50 kD-", 243), ("37 kD-", 276), ("50 kD-", 313), ("50 kD-", 346), ("100 kD-", 373)]:
    txt(88, y, s, 15, True, "right")

# ---------- panel b ----------
for y0, y1, rows in [(498, 537, blot_b_myc), (543, 580, blot_b_g6pd), (585, 620, blot_b_vinculin)]:
    blot(73, y0, 366, y1, rows)
txt(140, 461, "EV", 15, True)
txt(279, 461, "SLC7A11-Myc", 15, True)
pl(76, 471, 208, 471, 2)
pl(220, 471, 352, 471, 2)
for s, x in zip(c_groups, [96, 132, 165, 197, 236, 273, 305, 338]):
    txt(x, 486, s, 15, True)
txt(369, 484, "shG6PD", 15, True, "left")
txt(71, 528, "37kD -", 15, True, "right")
txt(71, 560, "50kD -", 15, True, "right")
txt(71, 619, "100 kD -", 15, True, "right")
txt(370, 522, "Myc", 15, True, "left")
txt(370, 563, "G6PD", 15, True, "left")
txt(370, 603, "Vinculin", 15, True, "left")
txt(215, 633, "786-O", 15, True)

# ---------- panel d ----------
for y0, y1, rows, name in [(105, 149, blot_d_vinculin, "Vinculin"), (154, 192, blot_d_slc, "SLC7A11-Myc"), (197, 235, blot_d_myc, "Myc-G6PD")]:
    blot(1061, y0, 1217, y1, rows)
    txt(1225, (y0 + y1) / 2 + 1, name, 18, True, "left")
for s, x in zip(["EV", "SLC", "EV", "SLC"], [1078, 1116, 1156, 1195]):
    txt(x, 92, s, 17, True)
txt(1180, 66, "Myc-G6PD", 17, True)
pl(1139, 77, 1216, 77, 3)
for s, y in [("100 kD-", 140), ("37kD-", 186), ("75kD-", 202), ("50kD-", 227)]:
    txt(1059, y, s, 16, True, "right")
txt(1139, 250, "786-O", 17, True)

# ---------- bar-panel axis style ----------
def bar_axes(x0, y0, x1, y1, xr, ymax, ticks, step):
    xo = dict(showline=True, linecolor="black", linewidth=3, ticks="outside", tickwidth=3, ticklen=4, tickvals=ticks, tickcolor="black")
    yo = dict(showline=True, linecolor="black", linewidth=3, ticks="outside", tickwidth=3, ticklen=5, tickcolor="black",
              showticklabels=True, tickvals=list(range(0, ymax + 1, step)), tickfont=dict(size=18, weight="bold", family=FONT))
    return new_ax(x0, y0, x1, y1, xr, (0, ymax), xo, yo)

# panel c
xa, ya = bar_axes(564, 64, 874, 261, (-0.40, 7.55), 40, list(range(8)), 10)
gx = list(range(8))
for vals, pts, col, off in [(c_gray, c_gray_pts, "#666666", -0.19), (c_red, c_red_pts, "#ED1C24", 0.19)]:
    tops = [max(p) - v for p, v in zip(pts, vals)]
    traces.append(go.Bar(x=[g + off for g in gx], y=vals, width=0.25, marker=dict(color=col, line=dict(width=0)), xaxis=xa, yaxis=ya, hoverinfo="skip",
                         error_y=dict(type="data", array=tops, symmetric=False, arrayminus=[0] * 8, color=col, thickness=3, width=0)))
    px_, py_ = [], []
    for g, p in zip(gx, pts):
        for jit, v in zip((-0.09, 0.09, 0.0), p):
            px_.append(g + off + jit)
            py_.append(v)
    traces.append(go.Scatter(x=px_, y=py_, mode="markers", marker=dict(symbol="triangle-down", size=5, color="black"), xaxis=xa, yaxis=ya, hoverinfo="skip"))
for s, x in zip(c_groups, [583, 618, 654, 696, 736, 773, 812, 848]):
    txt(x, 279, s, 18, True)
txt(477, 283, "shG6PD", 18, True, "left")
pl(570, 292, 702, 292, 3)
pl(727, 291, 853, 291, 3)
txt(637, 308, "EV", 18, True)
txt(777, 307, "SLC7A11", 18, True)
txt(498, 166, "Cell death", 19, True, angle=-90)
txt(522, 167, "(%, PI staining)", 19, True, angle=-90)
txt(717, 23, "786-O", 18, True)
txt(799, 20, "p=1.4E-5", 13, True)
txt(795, 48, "p=0.00378", 14, True)
txt(773, 76, "p=1.2E-5", 13.5, True)
pl(743, 35, 743, 193)
pl(743, 35, 859, 35)
pl(859, 35, 859, 90)
pl(743, 64, 821, 64)
pl(821, 64, 821, 116)
pl(743, 86, 783, 86)
pl(783, 86, 783, 89)
rect(888, 107, 901, 115, "#666666")
rect(888, 124, 901, 132, "#ED1C24")
txt(903, 112, "25 mM", 20, True, "left")
txt(903, 129, "1 mM", 20, True, "left")

# panel e  (one unit = one bar slot)
xa, ya = bar_axes(563, 424, 737, 597, (-0.67, 8.33), 50, [1.5, 6.15], 10)
slots = [0, 1, 2, 3, 4.65, 5.65, 6.65, 7.65]
e_vals = e_25 + e_1
e_pts = e_25_pts + e_1_pts
e_cols = e_colors + e_colors
traces.append(go.Bar(x=slots, y=e_vals, width=0.68, marker=dict(color=e_cols, line=dict(width=0)), xaxis=xa, yaxis=ya, hoverinfo="skip",
                     error_y=dict(type="data", array=[max(p) - v for p, v in zip(e_pts, e_vals)], symmetric=False, arrayminus=[0] * 8, color="#D9534F", thickness=2, width=0)))
traces.append(go.Scatter(x=[s + d for s in slots for d in (-0.12, 0.12, 0.0)], y=[v for p in e_pts for v in p], mode="markers",
                         marker=dict(symbol="triangle-down", size=7, color="black"), xaxis=xa, yaxis=ya, hoverinfo="skip"))
for s, y, c in zip(e_names, [446, 463, 480, 497], e_colors):
    rect(746, y - 6, 759, y + 6, c)
    txt(760, y, s, 18, True, "left")
txt(498, 513, "Cell death", 19, True, angle=-90)
txt(521, 503, "(%, PI staining)", 17, True, angle=-90)
txt(650, 408, "786-O", 17, True)
txt(700, 427, "p=0.0035", 13, True)
pl(683.5, 453, 683.5, 443)
pl(683.5, 443, 724, 443)
pl(724, 443, 724, 490)
txt(527, 619, "Glc", 18, True)
txt(606, 615, "25 mM", 18, True)
txt(696, 615, "1 mM", 18, True)

# ---------- panel f ----------
def dec(ch):
    return int(ch) * cor_unit if ch.isdigit() else -(ord(ch) - 96) * cor_unit
heat_z = [[dec(c) for c in r.replace(" ", "").ljust(33, "0")[:33]] for r in heat_rows]
pcol = {"b": "#0000FF", "o": "#FFA500", "k": "#A9A9A9", "r": "#FF0000", "g": "#006400"}
bwr = [[0, "#0000FF"], [0.5, "#FFFFFF"], [1, "#FF0000"]]
fx = dict(showline=True, mirror=True, linecolor="#444444", linewidth=1.5, side="top", showticklabels=True, tickangle=-90, tickvals=list(range(33)),
          ticktext=cancers, tickfont=dict(size=13.5), ticks="outside", ticklen=2, tickcolor="rgba(0,0,0,0)")
fy = dict(showline=True, mirror=True, linecolor="#444444", linewidth=1.5, side="right", showticklabels=True, tickvals=list(range(88)),
          ticktext=[f'<span style="color:{pcol[p]}">{g}</span>' for g, p in zip(genes, gene_path)], tickfont=dict(size=13.5),
          ticks="outside", ticklen=5, tickcolor="rgba(0,0,0,0)")
xa, ya = new_ax(919, 423, 1374, 1307, (-0.5, 32.5), (87.5, -0.5), fx, fy)
traces.append(go.Heatmap(z=heat_z, zmin=-1, zmax=1, colorscale=bwr, showscale=False, xaxis=xa, yaxis=ya, hoverinfo="skip"))
layout["shapes"].append(dict(type="rect", xref=xa, yref=ya, x0=19.5, x1=28.5, y0=17.5, y1=21.5, line=dict(color="black", width=1.5)))
xs, ys = [], []
tree_xy(col_tree, xs, ys)
xa, ya = new_ax(919, 342, 1374, 384, (-0.5, 32.5), (0, 125))
traces.append(go.Scatter(x=xs, y=ys, mode="lines", line=dict(color="black", width=1.6), xaxis=xa, yaxis=ya, hoverinfo="skip"))
xs, ys = [], []
tree_xy(row_tree, xs, ys)
xa, ya = new_ax(865, 423, 913, 1307, (48, 0), (87.5, -0.5))
traces.append(go.Scatter(x=ys, y=xs, mode="lines", line=dict(color="black", width=1.6), xaxis=xa, yaxis=ya, hoverinfo="skip"))
cb_x = [i / 50 - 1 for i in range(101)]
xa, ya = new_ax(919, 1327, 1374, 1338, (-1, 1), (-0.5, 0.5),
                dict(showline=True, mirror=True, linecolor="#444444", linewidth=1, showticklabels=True, tickvals=[-1, -0.5, 0, 0.5, 1],
                     ticktext=["−1", "−0.5", "0", "0.5", "1"], tickfont=dict(size=12), ticks="outside", ticklen=3, tickcolor="rgba(0,0,0,0)"),
                dict(showline=True, mirror=True, linecolor="#444444", linewidth=1))
traces.append(go.Heatmap(x=cb_x, z=[cb_x], zmin=-1, zmax=1, colorscale=bwr, showscale=False, xaxis=xa, yaxis=ya, hoverinfo="skip"))
txt(1146, 1317, "Pearson Cor", 13)

# ---------- R-style box ----------
def rbox(x0, y0, x1, y1, xr, yr, xt, yt, size=11, lw=1.5, ysize=None, tl=4):
    xo = dict(showline=True, mirror=True, linecolor="black", linewidth=lw, ticks="outside", ticklen=tl, tickwidth=1, tickcolor="black",
              showticklabels=True, tickvals=xt, tickfont=dict(size=size))
    yo = dict(showline=True, mirror=True, linecolor="black", linewidth=lw, ticks="outside", ticklen=tl, tickwidth=1, tickcolor="black",
              showticklabels=True, tickvals=yt, tickangle=-90, tickfont=dict(size=ysize or size))
    return new_ax(x0, y0, x1, y1, xr, yr, xo, yo)

# ---------- panel g ----------
g_styles = [("circle", "#FF0000", 4.5), ("triangle-up", "#0000FF", 5), ("diamond", "#006400", 5), ("x", "#FFA500", 6), ("cross", "#A9A9A9", 6)]
def volcano(box, xr, yr, yt, sets):
    xa, ya = rbox(*box, xr, yr, [-1, -0.5, 0, 0.5, 1], yt)
    layout[xa.replace("x", "xaxis")]["tickformat"] = ".1f"
    for pts, (sym, col, sz) in zip(sets, g_styles):
        traces.append(go.Scatter(x=[p[0] for p in pts], y=[p[1] for p in pts], mode="markers", marker=dict(symbol=sym, color=col, size=sz, line=dict(width=0)),
                                 xaxis=xa, yaxis=ya, hoverinfo="skip"))
volcano((43, 693.4, 272, 901), (-1.08, 1.08), (-0.82, 20.75), [0, 5, 10, 15, 20], [g1_ppp, g1_gly, g1_tca, g1_tra, g1_lnk])
volcano((37, 952.7, 266, 1160), (-1.08, 1.08), (-1.77, 46.8), [0, 10, 20, 30, 40], [g2_ppp, g2_gly, g2_tca, g2_tra, g2_lnk])
# overlay page-space axis for the legend keys
ovx, ovy = new_ax(0, 0, W, H, (0, W), (H, 0))
for lx, ly_list in [(50, [706, 715, 725.4, 735.8, 745.4]), (44, [965, 974, 984, 994, 1004])]:
    for (sym, col, sz), ly, name in zip(g_styles, ly_list, g_legend):
        traces.append(go.Scatter(x=[lx], y=[ly], mode="markers", marker=dict(symbol=sym, color=col, size=sz, line=dict(width=0)), xaxis=ovx, yaxis=ovy, hoverinfo="skip"))
        txt(lx + 6, ly, name, 10.8, False, "left")
for s, x, y in [("G6PD", 214, 801), ("TKT", 198, 825), ("RPE", 197, 835.6), ("PGD", 197, 845), ("TALDO1", 202, 865.6), ("RPIA", 184, 887), ("PGLS", 131, 891),
                ("G6PD", 248, 973), ("TKT", 238, 1010), ("TALDO1", 239, 1028), ("PGD", 230, 1052), ("RPE", 211, 1109), ("RPIA", 202, 1131), ("PGLS", 185, 1153)]:
    txt(x, y, s, 11, True, color="#FF0000")
txt(161, 682.4, "KIRC", 10.5, True)
txt(156, 941.7, "KIRP", 10.5, True)
txt(147, 923.4, "Pearson's R", 11)
txt(155, 1183.4, "Pearson's R", 11)
txt(11, 792.6, "−log10 Adjusted P−value", 11, angle=-90)
txt(11, 1050.8, "−log10 Adjusted P−value", 11, angle=-90)

# ---------- panel h ----------
h_panels = [
    (h_g6pd, 0, (343, 689.3, 560, 899.3), (-2, 5), [-2, -1, 0, 1, 2, 3, 4, 5], (439, 678), (347, 701.7), "Pearson's R = 0.702 (p = 2.7e−44 )", "Spearman's R = 0.539 (p = 2.8e−23 )", "G6PD Expression", (452, 924), (310, 789)),
    (h_pgd, 1, (624, 690, 841, 900.4), (-3.04, 5), [-2, 0, 2, 4], (730, 680.7), (628.5, 702.4), "Pearson's R = 0.559 (p = 3.2e−25 )", "Spearman's R = 0.471 (p = 2e−17 )", "PGD Expression", (741, 926.2), (591.5, 787.4)),
    (h_tkt, 2, (345, 954.4, 559, 1161.7), (-2, 5), [-2, -1, 0, 1, 2, 3, 4, 5], (441, 945.5), (349, 966.8), "Pearson's R = 0.644 (p = 2.6e−35 )", "Spearman's R = 0.557 (p = 4.5e−25 )", "TKT Expression", (449, 1190.3), (313, 1056)),
    (h_taldo, 3, (623, 954.4, 837.5, 1161.7), (-2, 5), [-2, -1, 0, 1, 2, 3, 4, 5], (728, 945.5), (627.4, 966.8), "Pearson's R = 0.629 (p = 2.4e−33 )", "Spearman's R = 0.546 (p = 5.9e−24 )", "TALDO1 Expression", (735, 1191), (591.5, 1062)),
]
for pts, li, box, xr, xt, tpos, spos, s1, s2, xl, xlpos, ylpos in h_panels:
    xa, ya = rbox(*box, xr, (-8.17, 6.94), xt, [-8, -6, -4, -2, 0, 2, 4, 6])
    traces.append(go.Scatter(x=[p[0] for p in pts], y=[p[1] for p in pts], mode="markers", marker=dict(color="#FF0000", size=3.6, line=dict(width=0)), xaxis=xa, yaxis=ya, hoverinfo="skip"))
    (a, b) = h_lines[li]
    traces.append(go.Scatter(x=[a[0], b[0]], y=[a[1], b[1]], mode="lines", line=dict(color="black", width=1.6), xaxis=xa, yaxis=ya, hoverinfo="skip"))
    txt(*tpos, "KIRP", 12, True)
    txt(spos[0], spos[1], s1, 10.6, False, "left")
    txt(spos[0], spos[1] + 10.3, s2, 10.6, False, "left")
    txt(*xlpos, xl, 11.5)
    txt(*ylpos, "SLC7A11 Expression", 11.5, angle=-90)

# ---------- KM panels ----------
def step_at(curve, t):
    v = curve[0][1]
    for a, b in curve:
        if a <= t:
            v = b
    return v

def km(box, xmax, y0, y1, curves, size=10):
    xa, ya = rbox(*box, (0, xmax), (y0, y1), [0, 1000, 2000, 3000, 4000, 5000, 6000], [0, 0.2, 0.4, 0.6, 0.8, 1.0], size=size, lw=2, ysize=9, tl=3)
    layout[ya.replace("y", "yaxis")]["tickformat"] = ".1f"
    for curve, cens, col in curves:
        traces.append(go.Scatter(x=[p[0] for p in curve], y=[p[1] for p in curve], mode="lines", line=dict(color=col, width=1.3, shape="hv"), xaxis=xa, yaxis=ya, hoverinfo="skip"))
        traces.append(go.Scatter(x=cens, y=[step_at(curve, t) for t in cens], mode="markers", marker=dict(symbol="cross-thin", size=6, line=dict(color=col, width=1.3)), xaxis=xa, yaxis=ya, hoverinfo="skip"))

i_panels = [
    (40, 235, i1_blue, i1_blue_c, i1_red, i1_red_c, "Suvival impact of G6PD", "P=4.66e−03", "Hazard Ratio=2.3", 140.6, 138, 1225, 1242),
    (298, 493.5, i2_blue, i2_blue_c, i2_red, i2_red_c, "Suvival impact of PGD", "P=9.64e−01", "Hazard Ratio=1.01", 400, 394, 1226, 1243),
    (546, 742, i3_blue, i3_blue_c, i3_red, i3_red_c, "Suvival impact of SLC7A11", "P=1.84e−02", "Hazard Ratio=1.99", 649.5, 645, 1225, 1242),
]
for x0, x1, cb, cbc, cr, crc, title, p, hr, tx1, tx2, ty1, ty2 in i_panels:
    km((x0, 1253, x1, 1460), 6330, -0.042, 1.036, [(cb, cens_early + cbc, "#0000FF"), (cr, cens_early + crc, "#FF0000")])
    txt(tx1, ty1, "KIRP", 14, True)
    txt(tx2, ty2, title, 14, True)
    txt(x0 + 9.4, 1395, p, 13, False, "left")
    txt(x0 + 9.4, 1414, hr, 13, False, "left")
    pl(x0 + 8.5, 1433, x0 + 33, 1433, 5.5, "#0000FF")
    pl(x0 + 8.5, 1446, x0 + 33, 1446, 5.5, "#FF0000")
    txt(x0 + 41, 1433, "Expr. &lt; Median (n=161)", 13, False, "left")
    txt(x0 + 41, 1446, "Expr. &gt;= Median (n=162)", 13, False, "left")
    txt(x0 - 26.4, 1357, "Probability", 11.5, angle=-90)
    txt(x0 + 98, 1485, "Time(days)", 11.5)

ORANGE = "#FFA500"
for box, xmax, cor, cbk, p, hr, n1, n2, tx, ty1, ty2, py, hy, l1, l2, lx0, lx1, ltx, prx, pry, ttx, tty in [
    ((64, 1557, 274, 1753), 6176, (j_or, cens_early + j_or_c), (j_bk, cens_early[:34] + j_bk_c), "P = 9.72e−09", "Hazard Ratio=4.36", "Group 1 (n=247)", "Group 2 (n=76)", 169, 1526, 1540, 1691, 1709, 1727, 1740, 73.5, 99.5, 108, 37, 1655, 169, 1777),
    ((576, 1558, 788.5, 1755), 6200, (k_or, cens_early + k_or_c), (k_bk, cens_early[:34] + k_bk_c), "P = 2.84e−06", "Hazard Ratio=3.43", "Group 1 (n=237)", "Group 2 (n=86)", 682, 1528, 1541, 1693, 1711, 1729, 1741, 585.5, 613, 621, 548, 1656, 682, 1779),
]:
    km(box, xmax, -0.044, 1.039, [(cor[0], cor[1], ORANGE), (cbk[0], cbk[1], "black")], size=9.5)
    txt(tx, ty1, "KIRP", 12, True)
    txt(tx, ty2, "Suvival impact of combined signatures", 12, True)
    txt(lx0, py, p, 12, False, "left")
    txt(lx0, hy, hr, 12, False, "left")
    pl(lx0, l1, lx1, l1, 5.5, ORANGE)
    pl(lx0, l2, lx1, l2, 5.5, "black")
    txt(ltx, l1, n1, 12, False, "left")
    txt(ltx, l2, n2, 12, False, "left")
    txt(prx, pry, "Probability", 11.5, angle=-90)
    txt(ttx, tty, "Time(days)", 11.5)

# ---------- strip heatmaps ----------
strip_cs = [[0, "#000000"], [0.22, "#777777"], [0.33, "#999999"], [0.45, "#cccccc"], [0.56, "#FFFFFF"], [0.78, "#FFD98A"], [1, "#FFA500"]]
def strips(x0, y0, x1, y1, a, b, names, group, gx0, gx1, title, ty, ny, g1, g1y, g2, g2y, gtx, nx, nyy, cy0, cy1, lo, hi, lox, hix, ly):
    n = min(len(a), len(b))
    z = [[int(a[i]), int(b[i])] for i in range(n)]
    xa, ya = new_ax(x0, y0, x1, y1, (-0.5, 1.5), (n - 0.5, -0.5))
    traces.append(go.Heatmap(z=z, zmin=0, zmax=9, colorscale=strip_cs, showscale=False, xaxis=xa, yaxis=ya, hoverinfo="skip"))
    xa, ya = new_ax(gx0, y0, gx1, y1, (0, 1), (sum(group), 0))
    traces.append(go.Bar(x=[0.5, 0.5], y=group, base=[0, group[0]], width=1, marker=dict(color=[ORANGE, "#222222"], line=dict(width=0)), xaxis=xa, yaxis=ya, hoverinfo="skip"))
    cb = [i / 3 for i in range(28)]
    xa, ya = new_ax(x0, cy0, x1, cy1, (-0.5, 27.5), (-0.5, 0.5),
                    dict(showline=True, mirror=True, linecolor="#333333", linewidth=1),
                    dict(showline=True, mirror=True, linecolor="#333333", linewidth=1))
    traces.append(go.Heatmap(z=[cb], zmin=0, zmax=9, colorscale=strip_cs, showscale=False, xaxis=xa, yaxis=ya, hoverinfo="skip"))
    txt((x0 + x1) / 2, ty, title, 13)
    txt(x0 + (x1 - x0) * 0.25, ny, names[0], 12)
    txt(x0 + (x1 - x0) * 0.75, ny, names[1], 12)
    txt(gtx, g1y, g1, 12, angle=-90)
    txt(gtx, g2y, g2, 12, angle=-90)
    txt(nx, nyy, "Normalized Expression", 11)
    txt(lox, ly, lo, 11)
    txt(hix, ly, hi, 11)

strips(351, 1558, 462, 1755, j_slc, j_g6pd, ["SLC7A11", "G6PD"], group_j, 340, 346, "Patients Grouped by Kmeans", 1528, 1547,
       "Group 1 (247)", 1633, "Group 2 (76)", 1731, 327, 407, 1763, 1772, 1781, "−2.2", "3.6", 355, 459, 1792)
strips(853.6, 1559, 965, 1757, k_slc, k_pgd, ["SLC7A11", "PGD"], group_k, 842, 849, "Patients Grouped by Kmeans", 1528, 1548,
       "Group 1 (237)", 1632, "Group 2 (86)", 1730, 829.5, 909.6, 1766, 1774, 1783, "−2.8", "6", 859, 962, 1794)

fig = go.Figure(data=traces, layout=layout)
fig.write_html("out.html", post_script="document.body.style.margin='0';", config={"displayModeBar": False})
